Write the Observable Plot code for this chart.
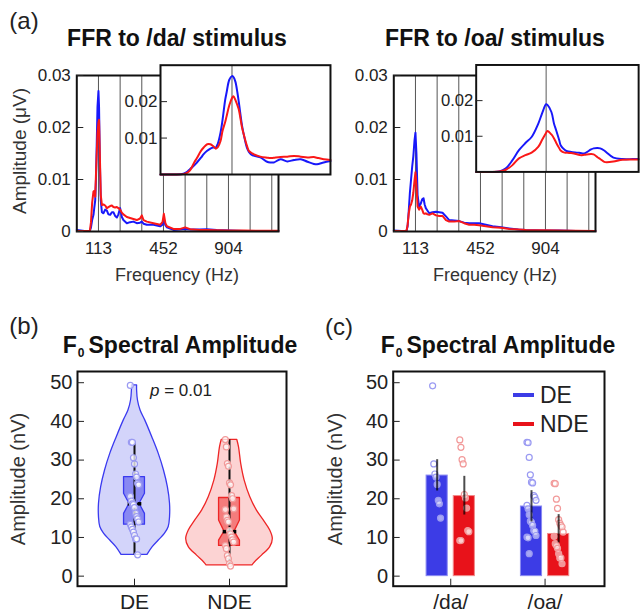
<!DOCTYPE html>
<html><head><meta charset="utf-8">
<script src="https://cdn.jsdelivr.net/npm/d3@7"></script>
<script src="https://cdn.jsdelivr.net/npm/@observablehq/plot@0.6"></script>
<style>
body{margin:0;background:#fff;}
#fig{position:relative;width:642px;height:615px;overflow:hidden;font-family:"Liberation Sans",Arial,sans-serif;color:#222;background:#fff;}
.t{position:absolute;transform:translate(-50%,-50%);white-space:nowrap;line-height:1;}
.r{position:absolute;transform:translate(-50%,-50%) rotate(-90deg);white-space:nowrap;line-height:1;}
</style></head>
<body><div id="fig"></div>
<script>
// ---------- Panel (a) data : FFR spectra ----------
const harmonicsHz = [113, 226, 339, 452, 565, 678, 791, 904, 1017];
const freqTickValues = [113, 452, 791];
const freqTickLabels = ["113", "452", "904"];
const ampTicks = [0, 0.01, 0.02, 0.03];
const ampTickLabels = ["0", "0.01", "0.02", "0.03"];
const insetTicks = [0.01, 0.02];
const insetTickLabels = ["0.01", "0.02"];

const daHz  = [0,40,68,74,80,87,91,96,100,104,108,113,116,120,125,131,139,148,157,165,174,183,191,200,209,217,226,235,243,261,278,295,313,330,339,348,365,400,435,447,454,462,470,504,540,565,591,640,678,730,800,870,950,1052];
const daDE  = [0.0003,0.0001,0.0001,0.0008,0.0022,0.0032,0.0045,0.006,0.010,0.017,0.024,0.027,0.024,0.014,0.006,0.0037,0.0035,0.0042,0.004,0.0033,0.0032,0.0037,0.0037,0.003,0.0027,0.0033,0.0045,0.0028,0.0022,0.0016,0.0018,0.0019,0.0016,0.0017,0.0019,0.0015,0.0013,0.0013,0.001,0.0013,0.0024,0.0012,0.0008,0.0003,0.0004,0.0005,0.0004,0.0004,0.00045,0.0003,0.0002,0.0001,0.0001,0.0001];
const daNDE = [0.0001,0.0001,0.0001,0.0018,0.0055,0.0077,0.0078,0.0067,0.011,0.015,0.019,0.021,0.0215,0.015,0.007,0.0051,0.0052,0.005,0.0045,0.0047,0.0049,0.005,0.0047,0.0046,0.0047,0.0045,0.0042,0.0036,0.0033,0.0028,0.0026,0.0024,0.0022,0.0025,0.0031,0.0022,0.0019,0.0016,0.0013,0.0018,0.0034,0.0016,0.001,0.0005,0.0005,0.0008,0.00045,0.0003,0.0003,0.00025,0.0002,0.0002,0.00015,0.00013];

const oaHz  = [0,40,66,72,78,84,90,96,102,108,113,118,124,132,141,148,155,161,167,176,185,202,220,237,254,272,289,315,341,367,393,420,445,480,515,560,602,650,689,780,863,950,1052];
const oaDE  = [0.0002,0.0001,0.0001,0.001,0.004,0.0075,0.010,0.0125,0.0145,0.0175,0.019,0.015,0.007,0.0048,0.0054,0.0062,0.0064,0.0052,0.0045,0.004,0.0035,0.0037,0.0038,0.0037,0.0036,0.0029,0.0022,0.0021,0.002,0.0017,0.0016,0.0016,0.0016,0.0013,0.001,0.0008,0.0006,0.0004,0.0003,0.0002,0.0002,0.0001,0.0001];
const oaNDE = [0.0001,0.0001,0.0001,0.0012,0.0035,0.0048,0.0052,0.006,0.0075,0.0098,0.0114,0.009,0.0048,0.0042,0.0048,0.0042,0.0035,0.0034,0.0035,0.0033,0.0032,0.0035,0.0031,0.003,0.003,0.0022,0.0019,0.0019,0.002,0.0016,0.0013,0.0013,0.0012,0.001,0.0008,0.0007,0.0005,0.0004,0.0003,0.00025,0.0002,0.00015,0.0001];

const insetDaHz  = [60,70,77,80,82,85,87,90,92,94.6,97,99,101,102.5,104.5,106,108,109,111,113,114,115.5,117,118,120.5,122,124,125.5,128,129,134,139,141.5,144,149,154,159,164,169,173.7,176,181,186];
const insetDaDE  = [0,0,0.0002,0.0008,0.0015,0.0025,0.0033,0.0046,0.0056,0.0065,0.0071,0.0074,0.0074,0.0085,0.0115,0.015,0.0206,0.0225,0.026,0.027,0.0268,0.0255,0.0225,0.02,0.0133,0.0105,0.0074,0.0062,0.0053,0.0052,0.0047,0.0035,0.0033,0.0033,0.0042,0.0036,0.004,0.0042,0.0035,0.0029,0.0028,0.0033,0.0037];
const insetDaNDE = [0,0,0.0001,0.0005,0.0012,0.0033,0.0045,0.0065,0.0074,0.0083,0.0083,0.0078,0.0071,0.0075,0.0092,0.012,0.0145,0.016,0.019,0.021,0.0215,0.0205,0.019,0.0179,0.0128,0.0106,0.008,0.0065,0.0058,0.0056,0.0049,0.0046,0.0045,0.0046,0.0048,0.0049,0.0051,0.0049,0.0047,0.0048,0.0046,0.0042,0.004];

const insetOaHz  = [60,70,77.6,82.5,87.5,92.4,97.3,102,107,110,113,114,117,119,120.6,123,124,127,129,132,137,139,142,147,149,152,154,157,159,164,171,178.7,183];
const insetOaDE  = [0,0,0.0001,0.001,0.0033,0.0061,0.0081,0.0098,0.0135,0.0165,0.019,0.0188,0.0168,0.0135,0.0117,0.0088,0.0075,0.0062,0.0058,0.0056,0.0054,0.0053,0.0052,0.0063,0.0066,0.0067,0.0066,0.006,0.0054,0.004,0.0036,0.0036,0.0036];
const insetOaNDE = [0,0,0.0001,0.0006,0.0019,0.0038,0.0047,0.0054,0.007,0.009,0.011,0.0115,0.0105,0.0094,0.0082,0.0066,0.006,0.0054,0.0054,0.0053,0.0049,0.0047,0.0048,0.005,0.0049,0.0041,0.0036,0.0028,0.0027,0.0029,0.0034,0.0035,0.0035];

// ---------- Panel (b) data : violins ----------
const groupsB = ["DE", "NDE"];
const ampTicksNV = [0, 10, 20, 30, 40, 50];
const deViolinV = [5.5,7.5,9.2,10.9,12.7,15.2,18.7,23,27.3,31.6,35.9,40.2,42.8,45.4,48,49.3];
const deViolinD = [0.30,0.42,0.56,0.70,0.79,0.82,0.82,0.77,0.68,0.56,0.41,0.25,0.14,0.08,0.06,0.06];
const ndeViolinV = [2.8,3.6,5.3,7.5,9.6,11.8,14.4,17,20.4,24.7,29,33.3,35.2];
const ndeViolinD = [0.53,0.59,0.75,0.94,1.0,0.94,0.79,0.63,0.48,0.35,0.27,0.22,0.18];
const boxQ1 = [13.3, 7.8];
const boxQ3 = [25.6, 20.2];
const boxMedian = [18.7, 11.5];
const notchLo = [16.1, 9.2];
const notchHi = [21.3, 14.4];
const whiskerLo = [5.5, 2.8];
const whiskerHi = [34.6, 35.2];
const dePointsB = [49.3,34.6,34.6,30.6,29.0,26.4,25.6,24.0,23.6,20.6,19.4,18.7,18.5,17.7,16.3,15.4,14.8,14.0,13.4,12.7,12.1,11.4,10.5,9.6,9.6,5.5];
const ndePointsB = [35.3,33.4,29.1,28.4,24.1,23.6,20.8,20.0,17.4,17.2,15.3,14.4,14.0,11.8,10.9,10.1,9.4,8.8,7.9,7.1,5.3,4.5,3.2,2.6];

// ---------- Panel (c) data : bars ----------
const stimuli = ["/da/", "/oa/"];
const barGroups = ["DE", "NDE"];
const barMeans = {DE: [26.0, 18.0], NDE: [20.7, 10.9]};
const barErrLo = {DE: [22.0, 14.0], NDE: [15.8, 8.6]};
const barErrHi = {DE: [30.1, 22.1], NDE: [25.8, 15.9]};
const ptsDaDE  = [49.2,29.0,26.4,25.6,23.7,19.6,18.7,15.0];
const ptsDaNDE = [35.2,33.3,30.1,29.0,21.1,20.2,17.6,11.8,11.5,9.2,9.2];
const ptsOaDE  = [34.6,34.5,30.7,26.2,24.3,24.1,20.8,20.4,19.6,18.3,17.4,15.9,14.2,13.9,13.1,11.8,11.6,10.5,10.1,9.9,5.8];
const ptsOaNDE = [24.0,23.9,19.9,17.5,14.6,13.7,13.1,12.7,11.4,10.3,8.4,7.9,7.2,5.8,4.7,4.7,3.2];

// ---------- styles ----------
const BLUE = "#1818fa", RED = "#fa1818";
const BAR_BLUE = "#3c3ce6", BAR_RED = "#e8121a";
const FONT = "'Liberation Sans', Arial, sans-serif";
const fig = document.getElementById("fig");

function place(node, left, top) {
  const d = document.createElement("div");
  d.style.cssText = `position:absolute;left:${left}px;top:${top}px;`;
  d.appendChild(node);
  fig.appendChild(d);
}
function label(html, x, y, css = "", cls = "t") {
  const d = document.createElement("div");
  d.className = cls;
  d.style.cssText = `left:${x}px;top:${y}px;${css}`;
  d.innerHTML = html;
  fig.appendChild(d);
}
const mapLabel = (vals, labs) => d => labs[vals.indexOf(d)];
const jitter = (i, s) => (((i * 37) % 9) - 4) * s;

// ---------- (a) main spectra ----------
function mainSpectrum(hz, de, nde, width, marginLeft, marginRight) {
  const rows = hz.map((h, i) => ({hz: h, de: de[i], nde: nde[i]}));
  return Plot.plot({
    width, height: 260, marginLeft, marginRight, marginTop: 75, marginBottom: 29,
    style: {fontFamily: FONT, fontSize: "17px", color: "#222", background: "transparent", overflow: "visible"},
    x: {domain: [0, 1052]},
    y: {domain: [0, 0.03]},
    marks: [
      Plot.ruleX(harmonicsHz, {stroke: "#555", strokeWidth: 1}),
      Plot.lineY(rows, {x: "hz", y: "de", stroke: BLUE, strokeWidth: 2}),
      Plot.lineY(rows, {x: "hz", y: "nde", stroke: RED, strokeWidth: 2}),
      Plot.frame({stroke: "#111", strokeWidth: 2}),
      Plot.axisY(ampTicks, {label: null, tickSize: -7, tickPadding: 13, tickFormat: mapLabel(ampTicks, ampTickLabels)}),
      Plot.axisX(freqTickValues, {label: null, tickSize: 0, tickPadding: 10, tickFormat: mapLabel(freqTickValues, freqTickLabels)})
    ]
  });
}
function insetSpectrum(hz, de, nde, width, xmax) {
  const rows = hz.map((h, i) => ({hz: h, de: de[i], nde: nde[i]}));
  return Plot.plot({
    width, height: 124, marginLeft: 60, marginRight: width - 60 - (xmax - 60) * 1.349, marginTop: 9.7, marginBottom: 5,
    style: {fontFamily: FONT, fontSize: "17px", color: "#222", background: "transparent", overflow: "visible"},
    x: {domain: [60, xmax], axis: null},
    y: {domain: [0, 0.03]},
    marks: [
      Plot.frame({fill: "white", stroke: "none"}),
      Plot.ruleX([113], {stroke: "#555", strokeWidth: 1}),
      Plot.lineY(rows, {x: "hz", y: "de", stroke: BLUE, strokeWidth: 2, curve: "catmull-rom"}),
      Plot.lineY(rows, {x: "hz", y: "nde", stroke: RED, strokeWidth: 2, curve: "catmull-rom"}),
      Plot.frame({stroke: "#111", strokeWidth: 2}),
      Plot.axisY(insetTicks, {label: null, tickSize: -7, tickPadding: 10, tickFormat: mapLabel(insetTicks, insetTickLabels)})
    ]
  });
}
place(mainSpectrum(daHz, daDE, daNDE, 320, 76.3, 42), 0, 0);
place(mainSpectrum(oaHz, oaDE, oaNDE, 322, 73.3, 47), 320, 0);
place(insetSpectrum(insetDaHz, insetDaDE, insetDaNDE, 240, 186), 100, 55);
place(insetSpectrum(insetOaHz, insetOaDE, insetOaNDE, 230, 183.1), 417, 55);

// ---------- (b) violins ----------
const maxHalf = 0.456, boxHalf = 0.11, notchHalf = 0.053;
const violinFill = ["#d3d4fa", "#fcd3d3"], violinStroke = ["#3a3af0", "#ee2626"], boxFill = ["#8888f2", "#f47c7c"];
const ptStroke = ["#9a9af2", "#f29a9a"];
const violinV = [deViolinV, ndeViolinV], violinD = [deViolinD, ndeViolinD], pointsB = [dePointsB, ndePointsB];
const marksB = [];
groupsB.forEach((g, gi) => {
  const c = gi + 1;
  const vrows = violinV[gi].map((v, k) => ({v, d: violinD[gi][k]}));
  marksB.push(Plot.areaX(vrows, {y: "v", x1: d => c - d.d * maxHalf, x2: d => c + d.d * maxHalf,
    fill: violinFill[gi], stroke: violinStroke[gi], strokeWidth: 1.3, curve: "catmull-rom"}));
  const brows = [
    {v: boxQ1[gi], w: boxHalf}, {v: notchLo[gi], w: boxHalf}, {v: boxMedian[gi], w: notchHalf},
    {v: notchHi[gi], w: boxHalf}, {v: boxQ3[gi], w: boxHalf}];
  marksB.push(Plot.areaX(brows, {y: "v", x1: d => c - d.w, x2: d => c + d.w,
    fill: boxFill[gi], stroke: violinStroke[gi], strokeWidth: 1.3}));
  marksB.push(Plot.ruleX([c], {y1: whiskerLo[gi], y2: whiskerHi[gi], stroke: "#111", strokeWidth: 2}));
  marksB.push(Plot.ruleY([boxMedian[gi]], {x1: c - notchHalf, x2: c + notchHalf, stroke: "#111", strokeWidth: 2}));
  marksB.push(Plot.dot([c - notchHalf, c + notchHalf], {x: d => d, y: boxMedian[gi], r: 2, symbol: "square", fill: "#000"}));
  marksB.push(Plot.dot(pointsB[gi], {x: (d, i) => c + jitter(i, 0.011), y: d => d, r: 3,
    fill: "white", fillOpacity: 0.75, stroke: ptStroke[gi], strokeWidth: 1.2}));
});
const plotB = Plot.plot({
  width: 320, height: 315, marginLeft: 77, marginRight: 34, marginTop: 71, marginBottom: 29.3,
  style: {fontFamily: FONT, fontSize: "20px", color: "#222", background: "transparent", overflow: "visible"},
  x: {domain: [0.4, 2.6]},
  y: {domain: [-2.6, 52.9]},
  marks: [
    ...marksB,
    Plot.frame({stroke: "#111", strokeWidth: 2}),
    Plot.axisY(ampTicksNV, {label: null, tickSize: -7, tickPadding: 12}),
    Plot.axisX([1, 2], {label: null, tickSize: -7, tickPadding: 15, fontSize: 21, tickFormat: d => groupsB[d - 1]})
  ]
});
place(plotB, 0, 300);

// ---------- (c) bars ----------
const barOffset = 0.144, barHalf = 0.112;
const barRows = [];
barGroups.forEach((g, gi) => stimuli.forEach((s, si) => {
  barRows.push({g, s, x: si + 1 + (gi === 0 ? -barOffset : barOffset), m: barMeans[g][si], lo: barErrLo[g][si], hi: barErrHi[g][si]});
}));
const ptsC = [[ptsDaDE, 0, 0], [ptsDaNDE, 1, 0], [ptsOaDE, 0, 1], [ptsOaNDE, 1, 1]];
const marksC = [
  Plot.rectY(barRows, {x1: d => d.x - barHalf, x2: d => d.x + barHalf, y1: 0, y2: "m",
    fill: d => d.g === "DE" ? BAR_BLUE : BAR_RED, stroke: d => d.g === "DE" ? "#8a8af2" : "#f28a8a", strokeWidth: 1})
];
ptsC.forEach(([arr, gi, si]) => {
  const cx = si + 1 + (gi === 0 ? -barOffset : barOffset);
  marksC.push(Plot.dot(arr, {x: (d, i) => cx + jitter(i, 0.012), y: d => d, r: 3,
    fill: "white", fillOpacity: 0.55, stroke: ptStroke[gi], strokeWidth: 1.2}));
});
marksC.push(Plot.ruleX(barRows, {x: "x", y1: "lo", y2: "hi", stroke: "#000", strokeOpacity: 0.7, strokeWidth: 2}));
const plotC = Plot.plot({
  width: 322, height: 315, marginLeft: 72.7, marginRight: 38, marginTop: 71, marginBottom: 29.3,
  style: {fontFamily: FONT, fontSize: "20px", color: "#222", background: "transparent", overflow: "visible"},
  x: {domain: [0.39, 2.63]},
  y: {domain: [-2.6, 52.9]},
  marks: [
    ...marksC,
    Plot.frame({stroke: "#111", strokeWidth: 2}),
    Plot.axisY(ampTicksNV, {label: null, tickSize: -7, tickPadding: 12}),
    Plot.axisX([1, 2], {label: null, tickSize: -7, tickPadding: 15, fontSize: 21, tickFormat: d => stimuli[d - 1]})
  ]
});
place(plotC, 320, 300);

// ---------- texts ----------
label("(a)", 24, 21, "font-size:24px;");
label("(b)", 24, 326, "font-size:24px;");
label("(c)", 339, 327, "font-size:24px;");
label("FFR to /da/ stimulus", 177, 38, "font-size:23px;font-weight:bold;color:#111;");
label("FFR to /oa/ stimulus", 495, 38, "font-size:23px;font-weight:bold;color:#111;");
label("Frequency (Hz)", 177, 275, "font-size:18px;color:#333;");
label("Frequency (Hz)", 495, 275, "font-size:18px;color:#333;");
label("Amplitude (μV)", 19, 151, "font-size:19px;color:#333;", "r");
const f0 = 'F<span style="font-size:12px;vertical-align:-4px;margin:0 4px 0 1px;">0</span>Spectral Amplitude';
label(f0, 180, 346, "font-size:23px;font-weight:bold;color:#111;");
label(f0, 498, 346, "font-size:23px;font-weight:bold;color:#111;");
label("Amplitude (nV)", 18, 479, "font-size:20px;color:#333;", "r");
label("Amplitude (nV)", 335, 479, "font-size:20px;color:#333;", "r");
label("<i>p</i> = 0.01", 181, 390, "font-size:17px;color:#222;");
// legend for (c)
const legendItems = [["DE", BAR_BLUE, 394.5], ["NDE", BAR_RED, 424]];
legendItems.forEach(([name, col, y]) => {
  const ln = document.createElement("div");
  ln.style.cssText = `position:absolute;left:512.5px;top:${y - 2}px;width:21px;height:4px;background:${col};`;
  fig.appendChild(ln);
  const tx = document.createElement("div");
  tx.style.cssText = `position:absolute;left:540px;top:${y}px;transform:translateY(-50%);font-size:23px;line-height:1;color:#222;`;
  tx.textContent = name;
  fig.appendChild(tx);
});
</script>
</body></html>
